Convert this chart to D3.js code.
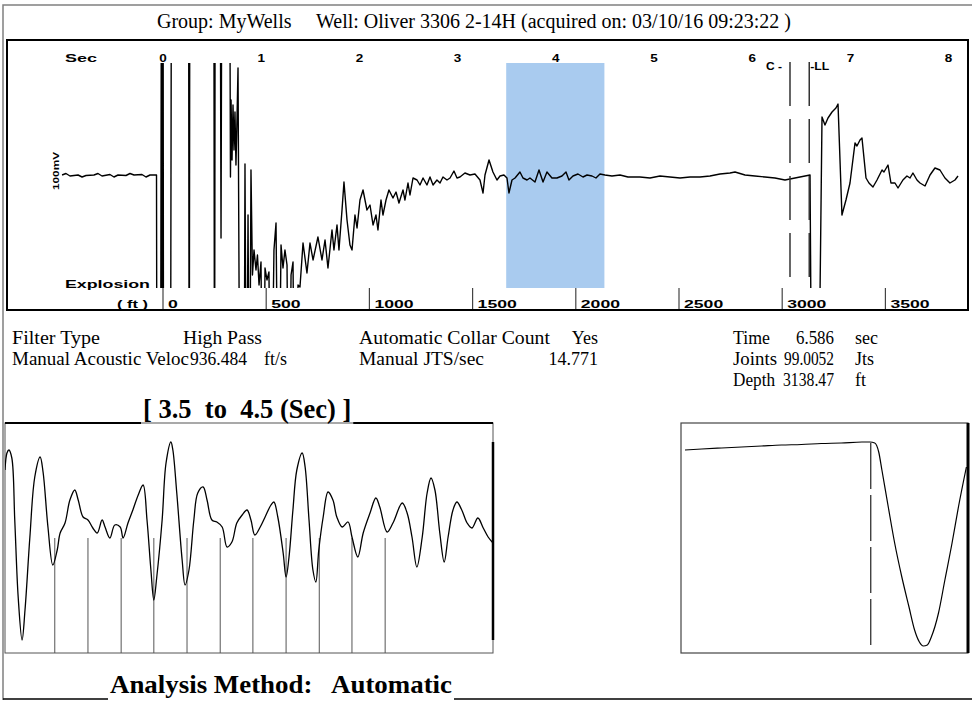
<!DOCTYPE html>
<html>
<head>
<meta charset="utf-8">
<title>Acoustic shot - Oliver 3306 2-14H</title>
<script src="https://cdn.jsdelivr.net/npm/d3@7"></script>
<style>
  body { margin: 0; background: #fff; }
  svg { display: block; }
  .serif { font-family: "Liberation Serif", "Times New Roman", serif; fill: #000; }
  .lbl { font-family: "Liberation Sans", Arial, sans-serif; font-weight: bold; font-size: 10px; fill: #000; }
</style>
</head>
<body>
<svg id="chart" width="972" height="701"></svg>
<script>
var groupName = 'MyWells';
var wellName = 'Oliver 3306 2-14H';
var acquiredOn = '03/10/16 09:23:22';

var secTicks = [0, 1, 2, 3, 4, 5, 6, 7, 8];
var ftTicks = [0, 500, 1000, 1500, 2000, 2500, 3000, 3500];

// whole shot: [time (sec), amplitude (mV)], values past +-112 are off scale
var shotTrace = [
    [-1.023, 0.5], [-0.983, 2], [-0.942, -0.5], [-0.860, 0.5], [-0.819, -1.5], [-0.779, 0],
    [-0.698, 0.5], [-0.657, 2], [-0.616, -0.5], [-0.535, 1], [-0.494, -1.5], [-0.453, 0.5],
    [-0.372, 0], [-0.331, 2], [-0.290, 0.5], [-0.209, 1], [-0.168, -1.5], [-0.127, 0.5],
    [-0.061, 0.5], [-0.056, -300], [-0.020, -300], [-0.010, 300], [-0.003, -300], [0.005, 300],
    [0.011, -300], [0.081, -300], [0.092, 300], [0.265, 300], [0.272, -300], [0.279, 300],
    [0.522, 300], [0.530, -300], [0.537, 300], [0.586, 300], [0.596, -62.5], [0.606, 300],
    [0.682, 300], [0.692, -1.5], [0.698, 75.5], [0.708, 15.5], [0.718, 70.5], [0.728, 25.5],
    [0.738, 63.5], [0.748, 10.5], [0.759, 57.5], [0.769, 107.5], [0.789, -300], [0.830, -300],
    [0.840, 11.5], [0.855, -300], [0.871, -39.5], [0.886, -300], [0.901, 5.5], [0.916, -99.5],
    [0.932, -74.5], [0.952, -94.5], [0.967, -79.5], [0.983, -109.5], [1.003, -86.5], [1.023, -300],
    [1.044, -92.5], [1.064, -104.5], [1.084, -96.5], [1.105, -300], [1.135, -74.5], [1.156, -47.5],
    [1.181, -300], [1.207, -69.5], [1.227, -92.5], [1.247, -74.5], [1.268, -89.5], [1.288, -300],
    [1.309, -99.5], [1.329, -86.5], [1.349, -300], [1.380, -109.5], [1.400, -111.5], [1.431, -67.5],
    [1.471, -97.5], [1.502, -67.5], [1.533, -84.5], [1.583, -61.5], [1.624, -84.5], [1.655, -64.5],
    [1.685, -92.5], [1.726, -54.5], [1.746, -74.5], [1.777, -49.5], [1.797, -74.5], [1.828, -34.5],
    [1.848, -6.5], [1.879, -44.5], [1.909, -69.5], [1.930, -74.5], [1.960, -39.5], [1.981, -52.5],
    [2.011, -24.5], [2.042, -14.5], [2.082, -34.5], [2.113, -29.5], [2.144, -49.5], [2.174, -39.5],
    [2.194, -54.5], [2.225, -24.5], [2.245, -39.5], [2.276, -24.5], [2.306, -14.5], [2.347, -22.5],
    [2.378, -16.5], [2.408, -27.5], [2.449, -14.5], [2.469, -24.5], [2.500, -7.5], [2.520, -19.5],
    [2.551, -2.5], [2.592, -4.5], [2.622, -9.5], [2.653, -2.5], [2.693, -9.5], [2.724, -1.5],
    [2.755, -9.5], [2.795, -4.5], [2.826, -7.5], [2.856, -1.5], [2.897, -4.5], [2.928, -2.5],
    [2.968, 4.5], [2.999, -2.5], [3.029, -1.5], [3.080, 2.5], [3.131, 0.5], [3.182, 1.5],
    [3.233, -4.5], [3.264, -17.5], [3.284, 0.5], [3.325, 15.5], [3.365, 3.5], [3.406, -4.5],
    [3.437, -0.5], [3.477, 0.5], [3.508, -2.5], [3.528, -17.5], [3.559, -4.5], [3.590, -2.5],
    [3.640, 3.5], [3.671, -2.5], [3.712, -4.5], [3.742, -2.5], [3.793, -6.5], [3.834, 5.5],
    [3.875, -6.5], [3.915, 3.5], [3.966, -2.5], [4.017, -2.5], [4.068, -0.5], [4.109, 3.5],
    [4.139, -4.5], [4.180, -0.5], [4.231, 1.5], [4.282, -1.5], [4.323, 0.5], [4.374, -0.5],
    [4.414, -2.5], [4.455, 1.5], [4.506, 0.5], [4.577, -0.5], [4.659, 0.5], [4.740, -1.5],
    [4.862, -1.5], [4.964, -2.5], [5.066, -0.5], [5.168, -1.5], [5.270, -2.5], [5.372, -1.5],
    [5.473, -1.5], [5.575, -0.5], [5.677, 1.5], [5.779, 2.5], [5.830, 3.5], [5.932, 0.5],
    [6.033, -0.5], [6.135, -1.5], [6.237, -2.5], [6.339, -4.5], [6.390, -3.5], [6.492, -1.5],
    [6.594, 0.5], [6.614, -300], [6.675, -300], [6.716, 58.5], [6.746, 50.5], [6.777, 57.5],
    [6.818, 63.5], [6.858, 67.5], [6.879, 71.5], [6.919, -39.5], [6.960, -24.5], [7.001, -7.5],
    [7.052, 32.5], [7.072, 29.5], [7.103, 35.5], [7.123, 37.5], [7.164, -2.5], [7.194, -7.5],
    [7.235, -11.5], [7.276, -4.5], [7.327, 5.5], [7.347, 3.5], [7.388, 10.5], [7.418, -7.5],
    [7.459, -7.5], [7.490, -12.5], [7.540, -4.5], [7.581, -0.5], [7.612, -2.5], [7.642, 2.5],
    [7.683, -4.5], [7.714, -7.5], [7.765, -10.5], [7.816, 0.5], [7.866, 7.5], [7.917, 5.5],
    [7.968, -2.5], [8.019, -7.5], [8.070, -4.5], [8.101, -0.5]
];

var windowSec = [3.5, 4.5];
var markerNames = ['C', 'LL'];
var markerSec = [6.39, 6.586];

// zoomed window 3.5 - 4.5 sec: [time (sec), amplitude]
var windowTrace = [
    [3.500, 68], [3.504, 85], [3.508, 88], [3.514, 80], [3.520, 18], [3.527, -59], [3.535, -102],
    [3.541, -72], [3.551, 1], [3.561, 61], [3.572, 81], [3.578, 66], [3.588, 11], [3.598, -27],
    [3.607, -12], [3.613, 5], [3.623, 15], [3.633, 38], [3.643, 48], [3.650, 38], [3.660, 21],
    [3.670, 18], [3.680, 10], [3.689, 5], [3.699, 18], [3.705, 11], [3.715, 0], [3.725, 13],
    [3.736, 11], [3.742, 0], [3.752, 15], [3.762, 28], [3.773, 43], [3.783, 53], [3.791, 18],
    [3.799, -32], [3.805, -62], [3.811, -39], [3.822, 18], [3.830, 75], [3.840, 96], [3.844, 88],
    [3.852, 45], [3.863, -22], [3.869, -47], [3.877, -32], [3.887, 18], [3.895, 45], [3.906, 51],
    [3.914, 38], [3.924, 18], [3.934, 16], [3.945, 11], [3.955, -9], [3.965, -4], [3.975, 15],
    [3.986, 23], [3.996, 28], [4.004, 18], [4.012, 3], [4.023, 11], [4.033, 21], [4.045, 33],
    [4.051, 36], [4.059, 21], [4.070, -15], [4.076, -39], [4.082, -19], [4.090, 28], [4.098, 68],
    [4.109, 85], [4.115, 71], [4.123, 18], [4.131, -32], [4.137, -44], [4.143, -12], [4.152, 21],
    [4.162, 46], [4.172, 38], [4.180, 21], [4.191, 11], [4.203, 16], [4.211, 1], [4.223, -19],
    [4.234, 5], [4.248, 25], [4.260, 40], [4.268, 31], [4.283, 6], [4.295, 15], [4.314, 35],
    [4.324, 25], [4.334, 1], [4.344, -29], [4.355, 1], [4.365, 45], [4.373, 60], [4.381, 48],
    [4.391, 5], [4.400, -24], [4.408, 1], [4.418, 28], [4.426, 36], [4.436, 28], [4.447, 15],
    [4.457, 10], [4.469, 20], [4.480, 10], [4.490, 1], [4.500, -5]
];
// collar (joint) picks inside the window, sec
var jointSec = [3.602, 3.670, 3.738, 3.805, 3.873, 3.941, 4.008, 4.076, 4.144, 4.211, 4.279];

// liquid level pick close-up: [time (sec), amplitude]
var pickTrace = [
    [6.353, 88], [6.374, 89], [6.399, 90], [6.424, 91], [6.449, 92], [6.474, 93], [6.499, 93.5],
    [6.524, 94.5], [6.549, 95], [6.575, 96], [6.585, 96], [6.591, 95], [6.596, 86], [6.600, 68],
    [6.608, 31], [6.616, -5], [6.625, -39], [6.634, -69], [6.641, -92], [6.647, -104], [6.652, -108],
    [6.657, -107], [6.662, -99], [6.671, -75], [6.679, -42], [6.688, -5], [6.696, 31], [6.706, 71]
];
var pickSec = 6.586;

var settingLabels = ['Filter Type', 'Manual Acoustic Veloc'];
var settingValues = ['High Pass', '936.484'];
var settingUnits = ['', 'ft/s'];
var countLabels = ['Automatic Collar Count', 'Manual JTS/sec'];
var countValues = ['Yes', '14.771'];
var pickLabels = ['Time', 'Joints', 'Depth'];
var pickValues = ['6.586', '99.0052', '3138.47'];
var pickUnits = ['sec', 'Jts', 'ft'];
var analysisMethod = 'Automatic';

// ---- layout ----
var svg = d3.select('#chart');
var plot = { l: 7, t: 40, r: 968, b: 310, top: 63, bottom: 288 };
var rowY = [344, 365, 386];

// outer frame
svg.append('path')
    .attr('d', 'M3,700V5H972')
    .attr('fill', 'none')
    .attr('stroke', '#808080')
    .attr('stroke-width', 1.5);

// header
svg.append('text').attr('class', 'serif')
    .attr('x', 157).attr('y', 28).style('font-size', '20px')
    .text('Group: ' + groupName);
svg.append('text').attr('class', 'serif')
    .attr('x', 316).attr('y', 28).style('font-size', '20px')
    .text('Well: ' + wellName + ' (acquired on: ' + acquiredOn + ' )');

// ---- main shot plot ----
var x = d3.scaleLinear().domain([0, 8]).range([162.5, 948.1]);
var depthX = d3.scaleLinear().domain([0, 3500]).range([162.5, 884.9]);
var y = d3.scaleLinear().domain([-112.5, 112.5]).range([plot.bottom, plot.top]);

svg.append('clipPath').attr('id', 'shotClip')
    .append('rect')
    .attr('x', plot.l + 1).attr('y', plot.top)
    .attr('width', plot.r - plot.l - 2).attr('height', plot.bottom - plot.top);

// selected window
svg.append('rect')
    .attr('x', x(windowSec[0]))
    .attr('y', plot.top)
    .attr('width', x(windowSec[1]) - x(windowSec[0]))
    .attr('height', plot.bottom - plot.top)
    .attr('fill', '#a9cbef');

var shotLine = d3.line()
    .x(d => x(d[0]))
    .y(d => y(d[1]));

svg.append('path')
    .datum(shotTrace)
    .attr('clip-path', 'url(#shotClip)')
    .attr('d', shotLine)
    .attr('fill', 'none')
    .attr('stroke', '#000')
    .attr('stroke-width', 1.4)
    .attr('stroke-linejoin', 'round');

// C and LL markers
svg.selectAll('.marker')
    .data(markerSec)
    .enter()
    .append('line')
    .attr('class', 'marker')
    .attr('x1', d => x(d)).attr('x2', d => x(d))
    .attr('y1', 62).attr('y2', plot.bottom)
    .attr('stroke', '#333')
    .attr('stroke-width', 1.5)
    .attr('stroke-dasharray', '44,13');

svg.append('text').attr('class', 'lbl')
    .attr('x', x(markerSec[0]) - 24).attr('y', 70)
    .attr('textLength', 16).attr('lengthAdjust', 'spacingAndGlyphs')
    .text(markerNames[0] + ' -');
svg.append('text').attr('class', 'lbl')
    .attr('x', x(markerSec[1]) + 1).attr('y', 70)
    .attr('textLength', 19).attr('lengthAdjust', 'spacingAndGlyphs')
    .text('-' + markerNames[1]);

// time axis along the top
var secAxis = svg.append('g')
    .attr('transform', 'translate(0,62)')
    .call(d3.axisTop(x).tickValues(secTicks).tickSize(0).tickPadding(0));
secAxis.select('.domain').remove();
secAxis.selectAll('text')
    .attr('class', 'lbl')
    .attr('dy', 0)
    .attr('textLength', 7.5)
    .attr('lengthAdjust', 'spacingAndGlyphs');
secAxis.attr('font-family', null).attr('font-size', null);

svg.append('text').attr('class', 'lbl')
    .attr('x', 65).attr('y', 62)
    .attr('textLength', 32).attr('lengthAdjust', 'spacingAndGlyphs')
    .text('Sec');

// depth axis along the bottom
var ftAxis = svg.append('g')
    .attr('transform', 'translate(0,' + plot.b + ')')
    .call(d3.axisTop(depthX).tickValues(ftTicks).tickSize(plot.b - plot.bottom).tickFormat(d3.format('d')));
ftAxis.select('.domain').remove();
ftAxis.selectAll('line').attr('stroke', '#444').attr('stroke-width', 1.2);
ftAxis.selectAll('text')
    .attr('class', 'lbl')
    .attr('x', 5).attr('y', -2).attr('dy', 0)
    .attr('text-anchor', 'start')
    .attr('textLength', d => String(d).length * 9.8)
    .attr('lengthAdjust', 'spacingAndGlyphs');
ftAxis.attr('font-family', null).attr('font-size', null);

svg.append('text').attr('class', 'lbl')
    .attr('x', 117).attr('y', 308)
    .attr('textLength', 31).attr('lengthAdjust', 'spacingAndGlyphs')
    .text('( ft )');

svg.append('text').attr('class', 'lbl')
    .attr('x', 65).attr('y', plot.bottom)
    .attr('textLength', 85).attr('lengthAdjust', 'spacingAndGlyphs')
    .text('Explosion');

svg.append('text').attr('class', 'lbl')
    .style('font-size', '9px')
    .attr('transform', 'translate(59,190) rotate(-90)')
    .attr('textLength', 38).attr('lengthAdjust', 'spacingAndGlyphs')
    .text('100mV');

svg.append('rect')
    .attr('x', plot.l).attr('y', plot.t)
    .attr('width', plot.r - plot.l).attr('height', plot.b - plot.t)
    .attr('fill', 'none')
    .attr('stroke', '#000')
    .attr('stroke-width', 2);

// ---- settings and pick readout ----
var info = svg.append('g').attr('class', 'serif').style('font-size', '18px');

// write a text, optionally squeezed/stretched to the width it has in the shot
function infoText(s, px, py, len, anchor) {
    var t = info.append('text').attr('x', px).attr('y', py).text(s);
    if (anchor) t.attr('text-anchor', anchor);
    if (len) t.attr('textLength', len).attr('lengthAdjust', 'spacingAndGlyphs');
    return t;
}

var settingLabelLen = [88, 177];
var settingValueX = [183, 190];
var settingValueLen = [79, 57];
settingLabels.forEach(function (s, i) {
    infoText(s, 12, rowY[i], settingLabelLen[i]);
    infoText(settingValues[i], settingValueX[i], rowY[i], settingValueLen[i]);
    if (settingUnits[i]) infoText(settingUnits[i], 264, rowY[i], 23);
});
var countLabelLen = [191, 125];
countLabels.forEach(function (s, i) {
    infoText(s, 359, rowY[i], countLabelLen[i]);
    infoText(countValues[i], 598, rowY[i], null, 'end');
});
var pickLabelLen = [37, 44, 42];
var pickValueLen = [38, 50, 51];
pickLabels.forEach(function (s, i) {
    infoText(s, 733, rowY[i], pickLabelLen[i]);
    infoText(pickValues[i], 834 - pickValueLen[i], rowY[i], pickValueLen[i]);
    infoText(pickUnits[i], 855, rowY[i]);
});

// ---- window close-up (bottom left) ----
var wBox = { l: 5, r: 493, t: 423, b: 653 };
var xw = d3.scaleLinear().domain(windowSec).range([wBox.l, wBox.r]);
var yw = d3.scaleLinear().domain([-115, 115]).range([wBox.b, wBox.t]);

svg.append('rect')
    .attr('x', wBox.l).attr('y', wBox.t)
    .attr('width', wBox.r - wBox.l).attr('height', wBox.b - wBox.t)
    .attr('fill', 'none').attr('stroke', '#555').attr('stroke-width', 1);

svg.selectAll('.joint')
    .data(jointSec)
    .enter()
    .append('line')
    .attr('class', 'joint')
    .attr('x1', d => xw(d)).attr('x2', d => xw(d))
    .attr('y1', yw(0)).attr('y2', wBox.b)
    .attr('stroke', '#555').attr('stroke-width', 1);

svg.append('clipPath').attr('id', 'winClip')
    .append('rect')
    .attr('x', wBox.l).attr('y', wBox.t)
    .attr('width', wBox.r - wBox.l).attr('height', wBox.b - wBox.t);

svg.append('path')
    .datum(windowTrace)
    .attr('clip-path', 'url(#winClip)')
    .attr('d', d3.line().x(d => xw(d[0])).y(d => yw(d[1])).curve(d3.curveCatmullRom.alpha(0.5)))
    .attr('fill', 'none').attr('stroke', '#000').attr('stroke-width', 1.3);

svg.append('line')
    .attr('x1', wBox.r).attr('x2', wBox.r).attr('y1', 442).attr('y2', 640)
    .attr('stroke', '#000').attr('stroke-width', 2.5);

var winTitle = svg.append('text').attr('class', 'serif')
    .attr('x', 143).attr('y', 418)
    .style('font-size', '26.5px').style('font-weight', 'bold').style('white-space', 'pre')
    .text('[ ' + windowSec[0] + '  to  ' + windowSec[1] + ' (Sec) ]');
var tb = winTitle.node().getBBox();
[[wBox.l, tb.x - 2], [tb.x + tb.width + 2, wBox.r]].forEach(function (seg) {
    svg.append('line')
        .attr('x1', seg[0]).attr('x2', seg[1]).attr('y1', wBox.t).attr('y2', wBox.t)
        .attr('stroke', '#000').attr('stroke-width', 2);
});

// ---- liquid level close-up (bottom right) ----
var pBox = { l: 681, r: 968, t: 423, b: 653 };
var xp = d3.scaleLinear().domain([6.348, 6.708]).range([pBox.l, pBox.r]);
var yp = d3.scaleLinear().domain([-115, 115]).range([pBox.b, pBox.t]);

svg.append('rect')
    .attr('x', pBox.l).attr('y', pBox.t)
    .attr('width', pBox.r - pBox.l).attr('height', pBox.b - pBox.t)
    .attr('fill', 'none').attr('stroke', '#444').attr('stroke-width', 1.2);
svg.append('line')
    .attr('x1', pBox.r).attr('x2', pBox.r).attr('y1', pBox.t).attr('y2', pBox.b)
    .attr('stroke', '#000').attr('stroke-width', 3);

svg.append('line')
    .attr('x1', xp(pickSec)).attr('x2', xp(pickSec))
    .attr('y1', 443).attr('y2', 645)
    .attr('stroke', '#333').attr('stroke-width', 1.3)
    .attr('stroke-dasharray', '46,6');

svg.append('path')
    .datum(pickTrace)
    .attr('d', d3.line().x(d => xp(d[0])).y(d => yp(d[1])).curve(d3.curveMonotoneX))
    .attr('fill', 'none').attr('stroke', '#000').attr('stroke-width', 1.2);

// ---- footer ----
var footer = svg.append('text').attr('class', 'serif')
    .attr('x', 110).attr('y', 693)
    .style('font-size', '26px').style('font-weight', 'bold').style('white-space', 'pre')
    .attr('textLength', 342).attr('lengthAdjust', 'spacingAndGlyphs')
    .text('Analysis Method:   ' + analysisMethod);
var fb = footer.node().getBBox();
[[3, fb.x - 2], [fb.x + fb.width + 2, 972]].forEach(function (seg) {
    svg.append('line')
        .attr('x1', seg[0]).attr('x2', seg[1]).attr('y1', 699).attr('y2', 699)
        .attr('stroke', '#000').attr('stroke-width', 1.5);
});
</script>
</body>
</html>
